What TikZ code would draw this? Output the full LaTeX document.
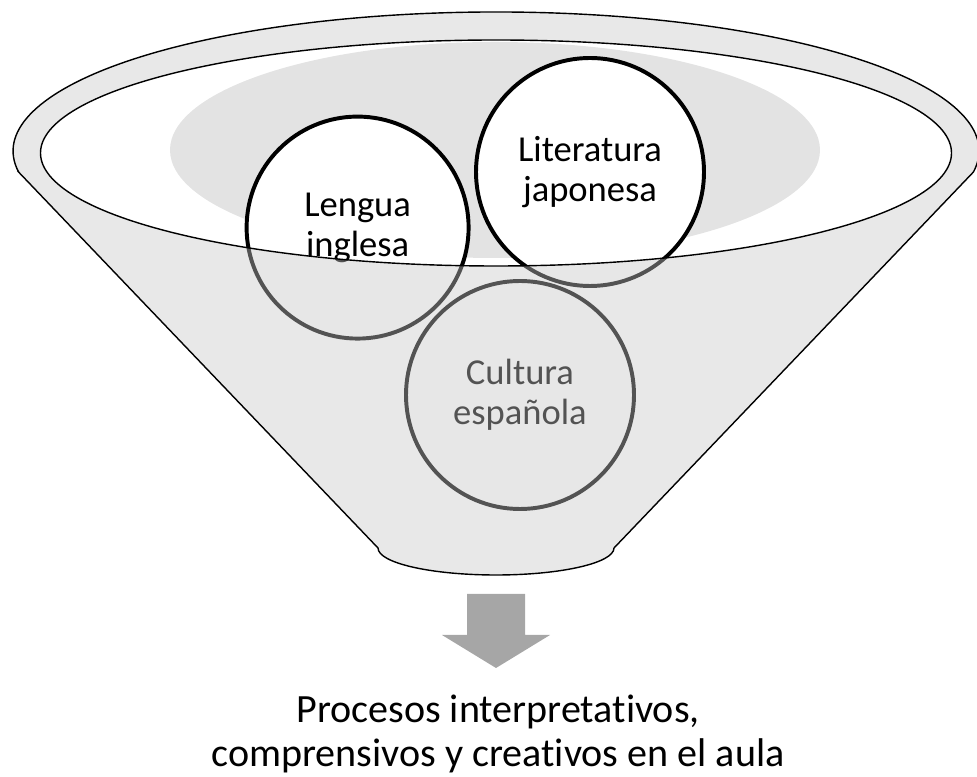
\documentclass[tikz,border=0pt]{standalone}
\usepackage{fontspec}
\setmainfont[Ligatures=NoCommon]{Carlito}
\definecolor{embudo}{RGB}{200,200,200}
\definecolor{fondo}{RGB}{227,227,227}
\definecolor{flecha}{RGB}{166,166,166}
\begin{document}
    \begin{tikzpicture}[
        circulo/.style={circle, draw=black, line width=2.8pt, fill=white, inner sep=0pt, align=center, font=\fontsize{26}{28.5}\selectfont},
        texto/.style={align=center, font=\fontsize{28.5}{31.3}\selectfont}
        ]
        \useasboundingbox (0,0) rectangle (24.425,19.4);

        \fill[fondo] (12.375,15.65) ellipse (8.125 and 2.7);

        \node[circulo, minimum size=5.55cm] (lengua) at (8.94,13.71) {Lengua\\inglesa};
        \node[circulo, minimum size=5.7cm] (literatura) at (14.75,15.1) {Literatura\\japonesa};
        \node[circulo, minimum size=5.7cm] (cultura) at (13.0,9.525) {Cultura\\española};

        % cuerpo del embudo, con la boca abierta
        \path[draw=black, line width=1pt, fill=embudo, fill opacity=0.42, even odd rule]
            (0.464,15.10) -- (9.45,5.7)
            arc[start angle=180, end angle=360, x radius=2.95, y radius=0.675]
            -- (24.336,15.10)
            arc[start angle=-8.7, end angle=188.7, x radius=12.075, y radius=3.475] -- cycle
            (12.4,15.575) ellipse (11.3875 and 2.825);

        \fill[flecha] (11.675,4.55) -- (13.125,4.55) -- (13.125,3.525) -- (13.75,3.525)
            -- (12.4,2.7) -- (11.05,3.525) -- (11.675,3.525) -- cycle;

        \node[texto] (procesos) at (12.45,1.05) {Procesos interpretativos,\\comprensivos y creativos en el aula};

    \end{tikzpicture}
\end{document}
